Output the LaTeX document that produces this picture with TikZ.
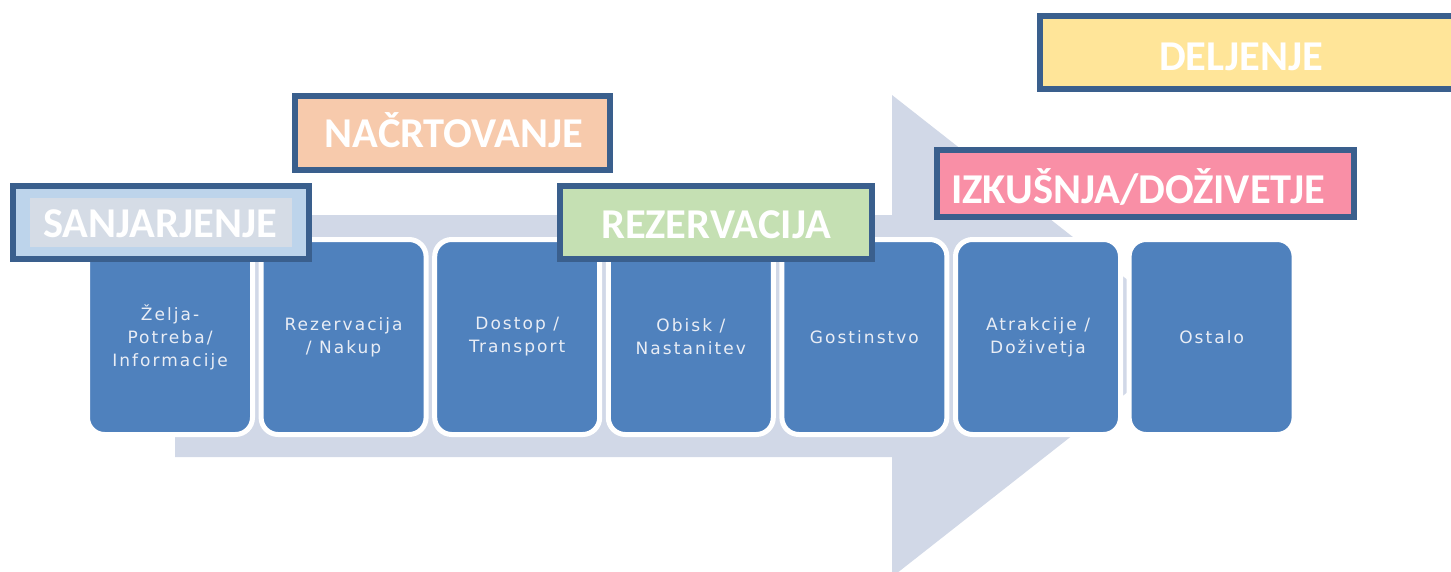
\documentclass[tikz,border=0pt]{standalone}
\usepackage{fontspec}
\newfontfamily\labfont{Carlito}[BoldFont={Carlito Bold}]
\newfontfamily\boxfont{DejaVu Sans}[LetterSpace=12]
\definecolor{arrowc}{HTML}{D1D8E7}
\definecolor{boxc}{HTML}{4F81BD}
\definecolor{bordc}{HTML}{3A5F8D}
\definecolor{boxtxt}{HTML}{E9EDF5}
\definecolor{c1}{HTML}{BDD4EB}
\definecolor{c1in}{HTML}{D5DCE6}
\definecolor{c2}{HTML}{F7CAAC}
\definecolor{c3}{HTML}{C5E0B3}
\definecolor{c4}{HTML}{F98FA6}
\definecolor{c5}{HTML}{FFE599}
\begin{document}
\begin{tikzpicture}[x=1pt,y=-1pt,
  stagebox/.style={draw=white,line width=5pt,fill=boxc,rounded corners=17pt,
    minimum width=165pt,minimum height=195pt,inner sep=0pt,
    text=boxtxt,align=center,font=\boxfont\fontsize{17}{23}\selectfont},
  phase/.style={draw=bordc,line width=6pt,inner sep=0pt},
  phasetxt/.style={text=white,anchor=base,inner sep=0pt,
    font=\labfont\bfseries\fontsize{42.5}{42.5}\selectfont}]
\useasboundingbox (0,0) rectangle (1451,571);
\begin{scope}
\clip (0,0) rectangle (1451,571);
% big arrow
\fill[arrowc] (175,215) -- (892,215) -- (892,95) -- (1199,336) -- (892,577)
  -- (892,457) -- (175,457) -- cycle;
% stage boxes
\foreach \i/\t in {1/{Želja-\\Potreba/\\Informacije},2/{Rezervacija\\/ Nakup},
  3/{Dostop /\\Transport},4/{Obisk /\\Nastanitev},5/{Gostinstvo},
  6/{Atrakcije /\\Doživetja},7/{Ostalo}}{
  \node[stagebox] (b\i) at ({170+173.6*(\i-1)},337) {\t};
}
% phase labels
\node[phase,fill=c1,minimum width=296pt,minimum height=73pt] (p1) at (161,222.5) {};
\node[fill=c1in,minimum width=262pt,minimum height=49pt,inner sep=0pt] (p1in) at (161,222.5) {};
\node[phasetxt] (t1) at (160,237) {SANJARJENJE};
\node[phase,fill=c2,minimum width=315pt,minimum height=74pt] (p2) at (452.5,133) {};
\node[phasetxt] (t2) at (454,147) {NAČRTOVANJE};
\node[phase,fill=c3,minimum width=312pt,minimum height=73pt] (p3) at (716,222.5) {};
\node[phasetxt] (t3) at (716,238) {REZERVACIJA};
\node[phase,fill=c4,minimum width=417pt,minimum height=67pt] (p4) at (1145.5,183.5) {};
\node[phasetxt] (t4) at (1138,203) {IZKUŠNJA/DOŽIVETJE};
\node[phase,fill=c5,minimum width=414pt,minimum height=73pt] (p5) at (1247,52.5) {};
\node[phasetxt] (t5) at (1241,70) {DELJENJE};
\end{scope}
\end{tikzpicture}
\end{document}
